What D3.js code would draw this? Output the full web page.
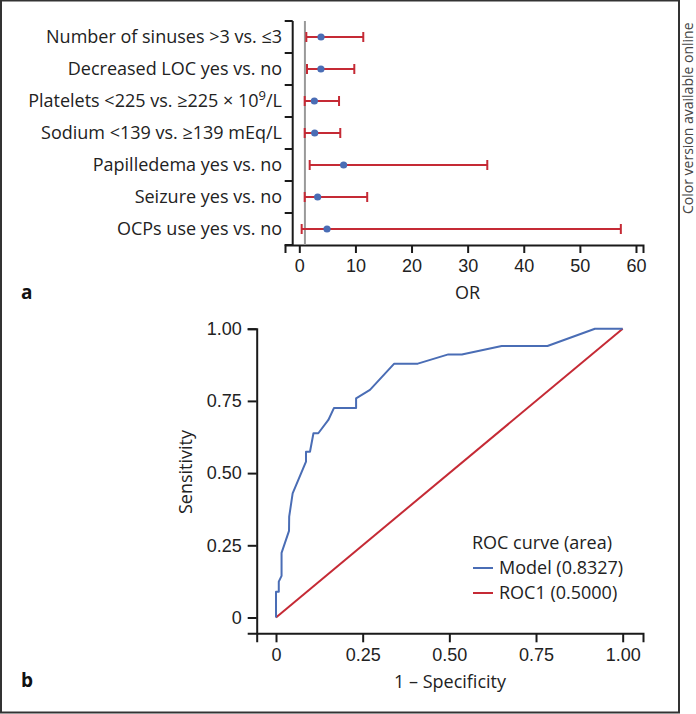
<!DOCTYPE html>
<html>
<head>
<meta charset="utf-8">
<script src="https://cdn.jsdelivr.net/npm/d3@7"></script>
<style>
  html, body { margin: 0; padding: 0; background: #fff; }
  svg { display: block; font-family: "Open Sans", "Noto Sans", sans-serif; }
</style>
</head>
<body>
<svg id="chart" width="696" height="714"></svg>
<script>
// ---- Panel a data ----
const categories = [
  "Number of sinuses >3 vs. \u22643",
  "Decreased LOC yes vs. no",
  "Platelets <225 vs. \u2265225 \u00d7 10^9/L",
  "Sodium <139 vs. \u2265139 mEq/L",
  "Papilledema yes vs. no",
  "Seizure yes vs. no",
  "OCPs use yes vs. no"
];
const orValues = [3.87, 3.85, 2.68, 2.74, 7.9, 3.27, 4.94];
const orLower  = [1.25, 1.37, 0.96, 0.96, 1.85, 0.96, 0.42];
const orUpper  = [11.4, 9.8, 7.08, 7.3, 33.5, 12.1, 57.3];
const orTicks  = [0, 10, 20, 30, 40, 50, 60];

// ---- Panel b data ----
const modelFpr = [0, 0, 0.008, 0.008, 0.016, 0.016, 0.0375, 0.038, 0.048, 0.0865, 0.0865, 0.098, 0.108, 0.122, 0.151, 0.167, 0.231, 0.231, 0.271, 0.341, 0.409, 0.497, 0.536, 0.651, 0.783, 0.920, 1.0];
const modelTpr = [0, 0.089, 0.089, 0.124, 0.144, 0.224, 0.30, 0.349, 0.43, 0.54, 0.574, 0.574, 0.638, 0.638, 0.684, 0.725, 0.725, 0.759, 0.788, 0.879, 0.879, 0.911, 0.911, 0.940, 0.940, 1.0, 1.0];
const refFpr = [0, 1];
const refTpr = [0, 1];
const rocTicks = [0, 0.25, 0.5, 0.75, 1.0];
const rocTickLabels = ["0", "0.25", "0.50", "0.75", "1.00"];
const legendTitle = "ROC curve (area)";
const legendLabels = ["Model (0.8327)", "ROC1 (0.5000)"];

const BLUE = "#4a6db5";
const RED = "#c52a35";
const AXIS = "#1a1a1a";
const FS = 18;

const svg = d3.select("#chart");

// outer frame
svg.append("rect").attr("x", 1).attr("y", 0.5).attr("width", 678).attr("height", 712)
  .attr("fill", "none").attr("stroke", "#333").attr("stroke-width", 2);

svg.append("text")
  .attr("transform", "translate(693,214) rotate(-90)")
  .attr("font-size", 14).attr("fill", "#444")
  .text("Color version available online");

// ================= Panel a =================
const gA = svg.append("g");
const xA = d3.scaleLinear().domain([-2.55, 61.25]).range([285, 643]);
const yA = d3.scaleBand().domain(categories).range([21, 245]).padding(0);

// x axis
const axA = d3.axisBottom(xA).tickValues(orTicks).tickSizeOuter(0).tickSize(8).tickPadding(6);
const gxA = gA.append("g").attr("transform", "translate(0,245)").call(axA);
gxA.select(".domain").attr("stroke", AXIS).attr("stroke-width", 2);
gxA.selectAll(".tick line").attr("stroke", AXIS).attr("stroke-width", 2);
gxA.selectAll(".tick text").attr("font-size", FS).attr("fill", "#222").attr("font-family", null);

// y axis line with band-edge ticks
const yAx = 292.7;
gA.append("line").attr("x1", yAx).attr("x2", yAx).attr("y1", yA.range()[0]).attr("y2", yA.range()[1])
  .attr("stroke", AXIS).attr("stroke-width", 2);
const edges = categories.map(c => yA(c)).concat([yA.range()[1]]);
gA.selectAll(".ytick").data(edges).enter().append("line")
  .attr("x1", yAx - 8).attr("x2", yAx).attr("y1", d => d).attr("y2", d => d)
  .attr("stroke", AXIS).attr("stroke-width", 2);

// category labels
gA.selectAll(".cat").data(categories).enter().append("text")
  .attr("x", 282).attr("y", d => yA(d) + yA.bandwidth() / 2 + 6)
  .attr("text-anchor", "end").attr("font-size", FS).attr("fill", "#222")
  .each(function (d) {
    const t = d3.select(this);
    if (d.includes("^")) {
      const [pre, rest] = d.split("^");
      const sup = rest.match(/^\d+/)[0];
      t.append("tspan").text(pre);
      t.append("tspan").attr("font-size", 13).attr("dy", -7).text(sup);
      t.append("tspan").attr("dy", 7).text(rest.slice(sup.length));
    } else t.text(d);
  });

// reference line at OR = 1
gA.append("line").attr("x1", xA(1)).attr("x2", xA(1)).attr("y1", 21).attr("y2", 245)
  .attr("stroke", "#999").attr("stroke-width", 2);

// error bars
const rows = categories.map((c, i) => ({ c, v: orValues[i], lo: orLower[i], hi: orUpper[i] }));
const eb = gA.selectAll(".eb").data(rows).enter().append("g");
const cy = d => yA(d.c) + yA.bandwidth() / 2;
eb.append("line").attr("x1", d => xA(d.lo)).attr("x2", d => xA(d.hi)).attr("y1", cy).attr("y2", cy)
  .attr("stroke", RED).attr("stroke-width", 2);
eb.append("line").attr("x1", d => xA(d.lo)).attr("x2", d => xA(d.lo)).attr("y1", d => cy(d) - 5).attr("y2", d => cy(d) + 5)
  .attr("stroke", RED).attr("stroke-width", 2);
eb.append("line").attr("x1", d => xA(d.hi)).attr("x2", d => xA(d.hi)).attr("y1", d => cy(d) - 5).attr("y2", d => cy(d) + 5)
  .attr("stroke", RED).attr("stroke-width", 2);
eb.append("circle").attr("cx", d => xA(d.v)).attr("cy", cy).attr("r", 3.6).attr("fill", BLUE);

gA.append("text").attr("x", xA(30)).attr("y", 299).attr("text-anchor", "middle")
  .attr("font-size", FS).attr("fill", "#222").text("OR");
svg.append("text").attr("x", 21).attr("y", 299).attr("font-size", 19).attr("font-weight", "bold")
  .attr("fill", "#111").text("a");

// ================= Panel b =================
const gB = svg.append("g");
const xB = d3.scaleLinear().domain([-0.0557, 1.0586]).range([256.7, 643]);
const yB = d3.scaleLinear().domain([-0.0547, 1]).range([633.3, 328.7]);

const axBx = d3.axisBottom(xB).tickValues(rocTicks).tickFormat((d, i) => rocTickLabels[i])
  .tickSizeOuter(0).tickSize(9).tickPadding(6);
const gxB = gB.append("g").attr("transform", "translate(0,633.3)").call(axBx);
gxB.select(".domain").attr("stroke", AXIS).attr("stroke-width", 2);
gxB.selectAll(".tick line").attr("stroke", AXIS).attr("stroke-width", 2);
gxB.selectAll(".tick text").attr("font-size", FS).attr("fill", "#222").attr("font-family", null);

const axBy = d3.axisLeft(yB).tickValues(rocTicks).tickFormat((d, i) => rocTickLabels[i])
  .tickSizeOuter(0).tickSize(9).tickPadding(6);
const gyB = gB.append("g").attr("transform", "translate(256.7,0)").call(axBy);
gyB.select(".domain").attr("stroke", AXIS).attr("stroke-width", 2);
gyB.selectAll(".tick line").attr("stroke", AXIS).attr("stroke-width", 2);
gyB.selectAll(".tick text").attr("font-size", FS).attr("fill", "#222").attr("font-family", null);

const line = d3.line().x(d => xB(d[0])).y(d => yB(d[1]));
gB.append("path").datum(refFpr.map((f, i) => [f, refTpr[i]])).attr("d", line)
  .attr("fill", "none").attr("stroke", RED).attr("stroke-width", 2);
gB.append("path").datum(modelFpr.map((f, i) => [f, modelTpr[i]])).attr("d", line)
  .attr("fill", "none").attr("stroke", BLUE).attr("stroke-width", 2).attr("stroke-linejoin", "round");

gB.append("text").attr("x", 450).attr("y", 688).attr("text-anchor", "middle")
  .attr("font-size", FS).attr("fill", "#222").text("1 \u2013 Specificity");
gB.append("text").attr("transform", "translate(192,472) rotate(-90)").attr("text-anchor", "middle")
  .attr("font-size", FS).attr("fill", "#222").text("Sensitivity");

// legend
gB.append("text").attr("x", 472).attr("y", 549).attr("font-size", FS).attr("fill", "#222").text(legendTitle);
const legColors = [BLUE, RED];
legendLabels.forEach((lab, i) => {
  const y = 568 + i * 25;
  gB.append("line").attr("x1", 473).attr("x2", 493).attr("y1", y).attr("y2", y)
    .attr("stroke", legColors[i]).attr("stroke-width", 2);
  gB.append("text").attr("x", 499).attr("y", y + 6).attr("font-size", FS).attr("fill", "#222").text(lab);
});

svg.append("text").attr("x", 21).attr("y", 687).attr("font-size", 19).attr("font-weight", "bold")
  .attr("fill", "#111").text("b");
</script>
</body>
</html>
